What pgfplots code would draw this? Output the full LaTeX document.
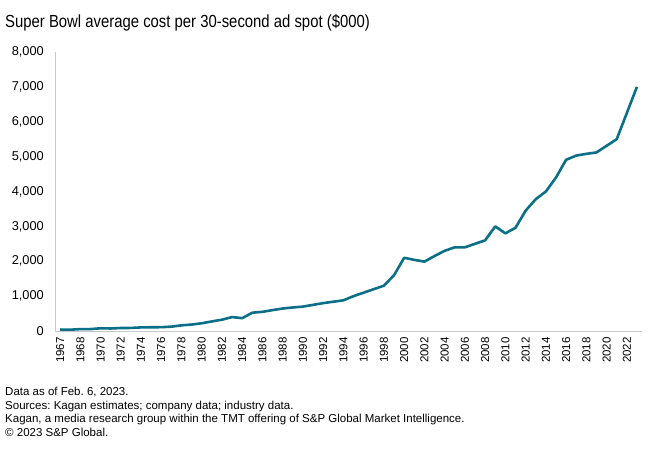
\documentclass[border=0pt]{standalone}
\usepackage{pgfplots}
\pgfplotsset{compat=1.18}
\usepackage{pgfplotstable}
\usepackage{fontspec}
\setmainfont{Liberation Sans}
\newfontfamily\titlefont[FakeStretch=0.85]{Liberation Sans}
\frenchspacing
\definecolor{lineteal}{HTML}{0A6F87}
\definecolor{axgray}{HTML}{C8C8C8}
\pgfplotstableread{
idx val
0 42
1 37.5
2 54.5
3 55
4 78.2
5 72.5
6 86
7 88
8 103.5
9 107
10 110
11 125
12 162.3
13 185
14 222
15 275
16 324.3
17 400
18 368.2
19 525
20 550
21 600
22 645
23 675
24 700
25 750
26 800
27 840
28 880
29 1000
30 1100
31 1200
32 1300
33 1600
34 2100
35 2040
36 1990
37 2150
38 2300
39 2400
40 2400
41 2500
42 2600
43 3000
44 2800
45 2960
46 3450
47 3780
48 4000
49 4400
50 4910
51 5030
52 5080
53 5120
54 5310
55 5500
56 6250
57 7000
}\costs
\begin{document}
\begin{tikzpicture}
\useasboundingbox (0,0) rectangle (660pt,-448pt);
\node[anchor=base west, font=\titlefont\fontsize{17.5}{20}\selectfont, inner sep=0pt] at (5pt,-27pt) {Super Bowl average cost per 30-second ad spot (\$000)};
\begin{axis}[
  at={(55pt,-331pt)}, anchor=south west,
  scale only axis, width=587pt, height=279pt,
  xmin=-0.5, xmax=57.5, ymin=0, ymax=8000,
  axis x line*=bottom, axis y line*=left,
  axis line style={axgray, line width=1pt},
  xtick={0,2,...,56},
  xticklabels={1967,1968,1970,1972,1974,1976,1978,1980,1982,1984,1986,1988,1990,1992,1994,1996,1998,2000,2002,2004,2006,2008,2010,2012,2014,2016,2018,2020,2022},
  x tick label style={rotate=90, anchor=east, font=\fontsize{11.5}{12}\selectfont, inner sep=0pt, xshift=0pt},
  xticklabel shift=6pt,
  ytick={0,1000,...,8000},
  y tick label style={font=\fontsize{12.8}{14}\selectfont, inner sep=0pt},
  yticklabel shift=11pt,
  /pgf/number format/assume math mode=true,
  /pgf/number format/1000 sep={,},
  scaled y ticks=false,
  major tick length=0pt,
  tick style={draw=none},
  clip=false,
]
\addplot[lineteal, line width=2.6pt, line join=round] table[x=idx, y=val] {\costs};
\end{axis}
\begin{scope}[every node/.style={anchor=base west, inner sep=0pt, font=\fontsize{11.5}{12}\selectfont}]
\node at (5pt,-395.5pt) {Data as of Feb. 6, 2023.};
\node at (5pt,-409pt) {Sources: Kagan estimates; company data; industry data.};
\node at (5pt,-422.5pt) {Kagan, a media research group within the TMT offering of S\&P Global Market Intelligence.};
\node at (5pt,-436pt) {\textcopyright\ 2023 S\&P Global.};
\end{scope}
\end{tikzpicture}
\end{document}
